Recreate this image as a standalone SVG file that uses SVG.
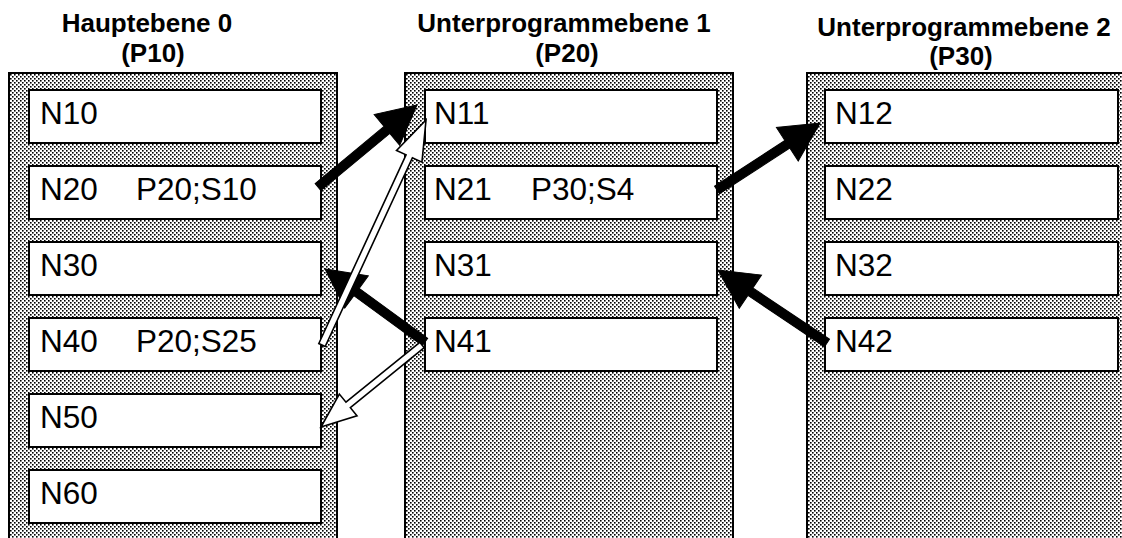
<svg xmlns="http://www.w3.org/2000/svg" width="1122" height="538" viewBox="0 0 1122 538">
  <defs>
    <!-- fine stipple used for the level panels -->
    <pattern id="stipple" width="4" height="4" patternUnits="userSpaceOnUse">
      <rect width="4" height="4" fill="#ffffff"/>
      <rect x="0" y="0" width="1.6" height="1.6" fill="#000000"/>
      <rect x="2" y="2" width="1.6" height="1.6" fill="#000000"/>
    </pattern>
    <style>
      .panel { fill: url(#stipple); stroke: #000; stroke-width: 2; }
      .block { fill: #fff; stroke: #000; stroke-width: 2; }
      .title { font-family: "Liberation Sans", Arial, sans-serif; font-weight: bold; font-size: 26px; fill: #000; text-anchor: middle; }
      .label { font-family: "Liberation Sans", Arial, sans-serif; font-size: 31.5px; fill: #000; }
      .call { fill: #000; stroke: #000; stroke-width: 1; }
      .ret { fill: #fff; stroke: #000; stroke-width: 1.6; stroke-linejoin: miter; }
    </style>
  </defs>

  <!-- level 0: main program -->
  <g id="level0">
    <text class="title" x="147" y="32">Hauptebene 0</text>
    <text class="title" x="153" y="62">(P10)</text>
    <path class="panel" d="M9,540 V73 H337 V540"/>
    <g id="n10"><rect class="block" x="29" y="90" width="292" height="53"/><text class="label" x="40" y="124">N10</text></g>
    <g id="n20"><rect class="block" x="29" y="166" width="292" height="53"/><text class="label" x="40" y="200">N20</text><text class="label" x="136" y="200">P20;S10</text></g>
    <g id="n30"><rect class="block" x="29" y="242" width="292" height="53"/><text class="label" x="40" y="276">N30</text></g>
    <g id="n40"><rect class="block" x="29" y="318" width="292" height="53"/><text class="label" x="40" y="352">N40</text><text class="label" x="136" y="352">P20;S25</text></g>
    <g id="n50"><rect class="block" x="29" y="394" width="292" height="53"/><text class="label" x="40" y="428">N50</text></g>
    <g id="n60"><rect class="block" x="29" y="470" width="292" height="53"/><text class="label" x="40" y="504">N60</text></g>
  </g>

  <!-- level 1: subprogram P20 -->
  <g id="level1">
    <text class="title" x="564" y="32">Unterprogrammebene 1</text>
    <text class="title" x="567" y="62">(P20)</text>
    <path class="panel" d="M405,540 V73 H733 V540"/>
    <g id="n11"><rect class="block" x="425" y="90" width="292" height="53"/><text class="label" x="434" y="124">N11</text></g>
    <g id="n21"><rect class="block" x="425" y="166" width="292" height="53"/><text class="label" x="434" y="200">N21</text><text class="label" x="531" y="200">P30;S4</text></g>
    <g id="n31"><rect class="block" x="425" y="242" width="292" height="53"/><text class="label" x="434" y="276">N31</text></g>
    <g id="n41"><rect class="block" x="425" y="318" width="292" height="53"/><text class="label" x="434" y="352">N41</text></g>
  </g>

  <!-- level 2: subprogram P30 -->
  <g id="level2">
    <text class="title" x="964" y="36">Unterprogrammebene 2</text>
    <text class="title" x="961" y="65">(P30)</text>
    <path class="panel" d="M807,540 V73 H1140 V540"/>
    <g id="n12"><rect class="block" x="825" y="90" width="293" height="53"/><text class="label" x="835" y="124">N12</text></g>
    <g id="n22"><rect class="block" x="825" y="166" width="293" height="53"/><text class="label" x="835" y="200">N22</text></g>
    <g id="n32"><rect class="block" x="825" y="242" width="293" height="53"/><text class="label" x="835" y="276">N32</text></g>
    <g id="n42"><rect class="block" x="825" y="318" width="293" height="53"/><text class="label" x="835" y="352">N42</text></g>
  </g>

  <!-- calls (solid) and returns (hollow) -->
  <g id="connectors">
    <!-- N20 calls P20 -->
    <g transform="translate(318,187) rotate(-39.63)">
      <polygon class="call" points="0,-4.5 89.5,-4.5 89.5,-20 128.5,0 89.5,20 89.5,4.5 0,4.5"/>
    </g>
    <!-- N21 calls P30 -->
    <g transform="translate(717,190) rotate(-33.04)">
      <polygon class="call" points="0,-4.5 83.9,-4.5 83.9,-20 122.9,0 83.9,20 83.9,4.5 0,4.5"/>
    </g>
    <!-- P20 returns to N30 -->
    <g transform="translate(425,342) rotate(-143.87)">
      <polygon class="call" points="0,-4.5 84.8,-4.5 84.8,-20 123.8,0 84.8,20 84.8,4.5 0,4.5"/>
    </g>
    <!-- P30 returns to N31 -->
    <g transform="translate(827,343) rotate(-146.19)">
      <polygon class="call" points="0,-4.5 92.2,-4.5 92.2,-20 131.2,0 92.2,20 92.2,4.5 0,4.5"/>
    </g>
    <!-- N40 calls P20 again (second pass) -->
    <g transform="translate(322,345) rotate(-65.19)">
      <polygon class="ret" points="0,-3.5 207.9,-3.5 207.9,-14 247.9,0 207.9,14 207.9,3.5 0,3.5"/>
    </g>
    <!-- second return to N50 -->
    <g transform="translate(422,345) rotate(140.93)">
      <polygon class="ret" points="0,-3.5 95.1,-3.5 95.1,-14 130.1,0 95.1,14 95.1,3.5 0,3.5"/>
    </g>
  </g>
</svg>
